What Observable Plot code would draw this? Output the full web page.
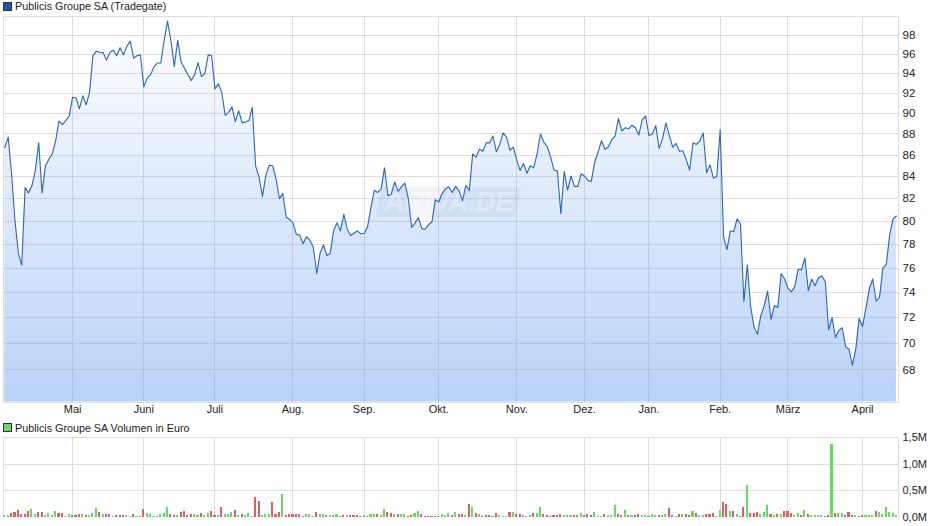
<!DOCTYPE html>
<html><head><meta charset="utf-8">
<script src="https://cdn.jsdelivr.net/npm/d3@7"></script>
<script src="https://cdn.jsdelivr.net/npm/@observablehq/plot@0.6"></script>
<style>
html,body{margin:0;padding:0;background:#fff;width:940px;height:526px;overflow:hidden}
body{font-family:"Liberation Sans",Arial,sans-serif;color:#222}
.leg{font-size:10.75px;line-height:12px;height:12px;white-space:nowrap;position:relative;padding-left:15px}
.leg i{position:absolute;left:3px;top:2px;width:7px;height:7px;border:1px solid #333}
svg{display:block}
</style></head><body>
<div class="leg" id="l1"><i style="background:#1a55b0"></i>Publicis Groupe SA (Tradegate)</div>
<div id="c1"></div>
<div class="leg" id="l2" style="height:14px;line-height:16px"><i style="background:#66d966;top:3px"></i>Publicis Groupe SA Volumen in Euro</div>
<div id="c2"></div>
<script>
const prices = [86.7,87.7,84.25,80.05,77.25,76.25,83.0,82.5,83.15,84.55,87.15,82.5,85.0,85.6,86.1,87.35,89.25,88.9,89.3,89.75,
91.6,91.55,90.45,91.75,90.85,92.1,95.85,96.35,96.2,96.2,95.4,96.2,96.45,95.85,96.7,95.95,96.85,97.4,95.6,95.85,
95.95,92.65,93.55,93.9,94.7,95.1,95.1,97.45,99.55,97.45,94.75,97.5,95.2,94.55,93.9,93.3,93.9,95.15,93.7,94.0,
95.95,95.85,92.45,92.95,92.1,89.8,90.1,90.65,89.2,90.25,89.1,89.15,89.3,90.6,84.95,83.95,82.2,84.1,85.05,85.0,
83.8,82.0,82.45,80.35,80.15,79.85,78.85,78.8,78.05,78.65,78.35,77.75,75.55,77.25,77.95,77.05,77.25,79.2,79.85,79.15,
80.6,79.3,78.75,78.95,79.15,78.9,78.95,79.5,81.2,82.75,82.55,82.85,84.8,82.25,82.4,83.5,82.65,83.05,83.4,82.05,
79.45,79.85,80.3,79.35,79.3,79.7,79.95,81.9,81.7,82.45,82.9,83.05,82.55,83.1,82.7,81.8,83.2,82.7,86.1,85.8,
86.55,86.35,87.15,87.15,87.8,86.3,87.0,88.1,87.7,86.45,86.75,85.55,84.55,85.2,84.3,85.0,84.8,86.1,88.0,87.2,
86.8,85.8,84.6,84.5,80.65,84.45,82.75,84.05,83.1,83.1,84.25,84.05,83.65,83.55,85.35,86.3,87.35,86.55,86.75,87.45,
87.8,89.5,88.3,88.6,88.5,88.85,88.6,87.9,89.35,89.75,87.85,88.0,88.8,86.6,87.55,89.05,87.85,86.75,87.1,86.35,
86.4,85.55,84.6,87.15,87.0,87.35,88.1,84.35,85.1,83.85,84.0,88.4,78.65,77.55,79.15,79.1,80.2,79.75,73.25,76.25,
72.85,71.25,70.7,72.15,72.95,74.1,71.85,72.95,72.8,75.55,75.1,74.35,74.05,74.45,75.9,75.85,76.85,74.15,75.1,74.55,
75.2,75.35,74.9,71.05,72.0,70.45,71.0,71.2,69.75,69.55,68.35,69.55,71.95,71.3,72.75,74.3,75.1,73.3,73.6,76.0,
76.3,78.8,80.2,80.45];
// Euro volume in millions, one per trading day
const volumes = [
.03,.03,.07,.09,.125,.05,.05,.1,.15,.05, .09,.09,.03,.07,.03,.1,.075,.07,.013,.05,
.02,.03,.05,.05,.03,.03,.07,.165,.09,.05, .05,.05,.013,.03,.03,.03,.03,.013,.05,.013,
.013,.145,.07,.05,.013,.013,.05,.07,.185,.05, .03,.03,.09,.11,.03,.05,.05,.03,.07,.03,
.07,.11,.03,.03,.185,.05,.05,.09,.125,.03, .05,.03,.07,.013,.365,.3,.03,.05,.05,.28,
.05,.09,.425,.03,.05,.05,.05,.05,.013,.05, .05,.013,.09,.05,
.05,.03,.03,.02,.05,.013,.03,.03,.03,.03, .03,.013,.03,.013,.05,.05,.05,.03,.145,.09,
.07,.04,.05,.05,.05,.013,.03,.07,.11,.05, .013,.013,.013,.013,.013,.05,.02,.07,.03,.09,
.05,.05,.03,.24,.17,.07,.05,.013,.03,.03, .013,.07,.03,.013,.013,.09,.09,.05,.05,.03,
.013,.03,.07,.07,.185,.05,.03,.013,.03,.03, .05,.03,.03,.03,.03,.03,.07,.03,.05,.03,
.09,.013,.013,.05,.03,.03,.22,.05,.03,.125, .03,.03,.03,.05,
.03,.03,.013,.05,.03,.03,.03,.05,.165,.03, .013,.05,.05,.05,.03,.11,.07,.03,.03,.05,
.05,.07,.013,.125,.28,.24,.11,.11,.05,.013, .185,.6,.07,.07,.09,.05,.09,.22,.05,.03,
.05,.05,.11,.11,.07,.03,.07,.03,.125,.05, .03,.03,.03,.03,.013,.03,1.37,.07,.07,.07,
.03,.09,.03,.03,.013,.03,.03,.03,.03,.11, .09,.05,.185,.09,.07,.03];
// g = green bar, r = red bar, one letter per trading day
const volumeSides = ("ggrrrrrrgg"+"rrggggrrgg"+"rrrgrgggrg"+"rrgrrrggrg"+"grgggggggr"+"rgrrrrggrg"+"grrgrgggrg"+"rgggrrgggr"+"rrgrrrrrrg"+"ggrg"+
"grgggrrgrr"+"rrggggrggr"+"rgrggrrggr"+"rrrrrgggrg"+"rrgrgrgrrr"+"grgggrgrrg"+"ggrggrrrrr"+"rgggrrgrrr"+"gggrgggrrg"+"rgrr"+
"ggrggrggrr"+"grgrrgrggr"+"rrggrrgrgr"+"rgrrrgggrg"+"rgrrrggrgr"+"ggggrrgrgg"+"rrrgrrgggr"+"gggggg").split("");
const monthIdx = [20,41,62,85,106,128,151,171,190,211,231,253];
const monthLabels = ["Mai","Juni","Juli","Aug.","Sep.","Okt.","Nov.","Dez.","Jan.","Feb.","März","April"];
const priceTicks = d3.range(68,100,2);
const volumeTicks = [0,.5,1,1.5];
const volumeLabels = ["0,0M","0,5M","1,0M","1,5M"];

const priceRows = prices.map((p,i)=>({i,p}));
const volRows = volumes.map((v,i)=>({i,v,c:volumeSides[i]==="g"?"#66d966":"#d96262"}));
const xDomain = [-0.38,263.6];
const yMin = 65.65, yMax = 100.06;
const font = {fontFamily:'"Liberation Sans",Arial,sans-serif',fontSize:"11px",background:"transparent",color:"#222",overflow:"visible"};
const gridCol = {stroke:"#ddd",strokeOpacity:1,shapeRendering:"crispEdges"};
const ns="http://www.w3.org/2000/svg";

function gradientDefs(){
  const g=document.createElementNS(ns,"linearGradient");
  g.setAttribute("id","priceFill");g.setAttribute("x1","0");g.setAttribute("y1","0");g.setAttribute("x2","0");g.setAttribute("y2","1");
  [[0,.01],[1,.53]].forEach(([o,a])=>{
    const s=document.createElementNS(ns,"stop");s.setAttribute("offset",o);s.setAttribute("stop-color","#7baaf1");s.setAttribute("stop-opacity",a);g.appendChild(s);});
  const d=document.createElementNS(ns,"defs");d.appendChild(g);return d;
}
// watermark plate behind the ARIVA.DE lettering, placed relative to the frame centre
function plate(index,scales,values,dim){
  const r=document.createElementNS(ns,"rect");
  const cx=(dim.marginLeft+dim.width-dim.marginRight)/2-2, cy=(dim.marginTop+dim.height-dim.marginBottom)/2-7;
  r.setAttribute("x",cx-70);r.setAttribute("y",cy-15);r.setAttribute("width",140);r.setAttribute("height",30);r.setAttribute("rx",6);
  r.setAttribute("transform",`translate(${cx},${cy}) skewX(-12) translate(${-cx},${-cy})`);
  r.setAttribute("fill","#7f93b5");r.setAttribute("fill-opacity",.1);
  return r;
}

const main = Plot.plot({
  width:940,height:408,marginTop:4,marginBottom:18.5,marginLeft:3,marginRight:42,
  style:font,
  x:{domain:xDomain,axis:null},
  y:{type:"log",domain:[yMin,yMax],axis:null},
  marks:[
    gradientDefs,
    Plot.gridY(priceTicks,gridCol),
    Plot.gridX(monthIdx,gridCol),
    Plot.frame(gridCol),
    Plot.areaY(priceRows,{x:"i",y1:()=>yMin,y2:"p",fill:"url(#priceFill)"}),
    plate,
    Plot.text(["ARIVA.DE"],{frameAnchor:"middle",dx:-2,dy:-7,fontSize:27.5,fontWeight:"bold",fontStyle:"italic",fill:"#fff",fillOpacity:.3,stroke:"none"}),
    Plot.line(priceRows,{x:"i",y:"p",stroke:"#2a64be",strokeWidth:1.1}),
    Plot.axisY(priceTicks,{anchor:"right",tickSize:0,tickPadding:4,tickFormat:"d",label:null,fontSize:11.5}),
    Plot.axisX(monthIdx,{anchor:"bottom",tickSize:0,tickPadding:3,tickFormat:i=>monthLabels[monthIdx.indexOf(i)],label:null,fontSize:11})
  ]
});
document.getElementById("c1").appendChild(main);

const vol = Plot.plot({
  width:940,height:92,marginTop:3,marginBottom:9.5,marginLeft:3,marginRight:42,
  style:font,
  x:{domain:xDomain,axis:null},
  y:{domain:[0,1.5],axis:null},
  marks:[
    Plot.gridY(volumeTicks.slice(1),gridCol),
    Plot.gridX(monthIdx,gridCol),
    Plot.ruleX(xDomain,gridCol),
    Plot.rectY(volRows,{x1:d=>d.i-.31,x2:d=>d.i+.31,y1:()=>0,y2:"v",fill:"c",shapeRendering:"crispEdges"}),
    Plot.axisY(volumeTicks,{anchor:"right",tickSize:0,tickPadding:4,tickFormat:d=>volumeLabels[volumeTicks.indexOf(d)],label:null,fontSize:11})
  ]
});
document.getElementById("c2").appendChild(vol);
</script>
</body></html>
